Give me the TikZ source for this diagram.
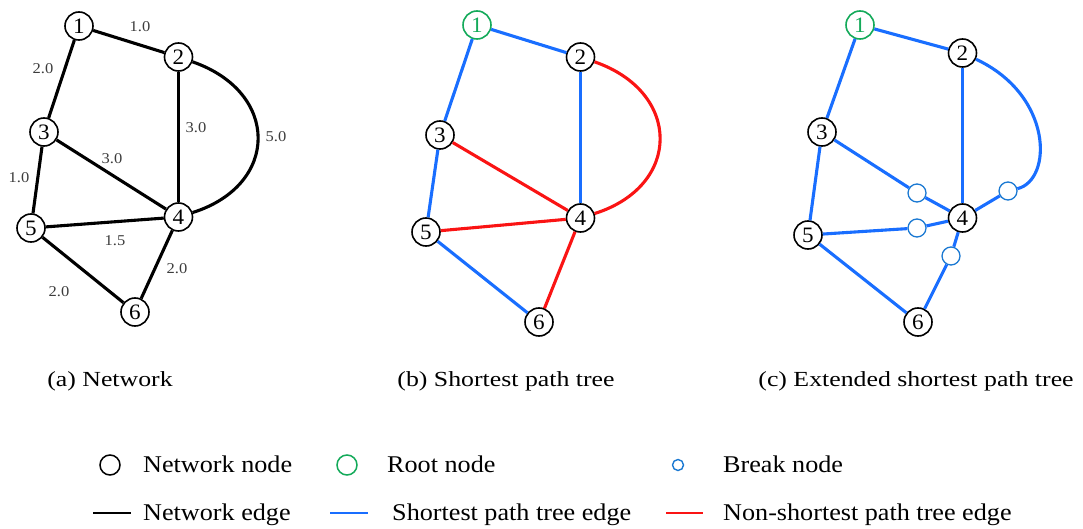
\documentclass[tikz,border=0pt]{standalone}
\usepackage{fontspec}
\setmainfont{Liberation Serif}
\newfontfamily\capfont[FakeStretch=1.2]{Liberation Serif}
\newfontfamily\legfont[FakeStretch=1.09]{Liberation Serif}
\newfontfamily\numfont[FakeStretch=1.05]{Liberation Serif}
\newfontfamily\lblfont[FakeStretch=1.1]{Liberation Serif}
\definecolor{sptblue}{RGB}{25,110,255}
\definecolor{nonred}{RGB}{250,20,20}
\definecolor{rootgreen}{RGB}{20,170,90}
\definecolor{breakblue}{RGB}{25,120,210}
\definecolor{lblgray}{RGB}{60,60,60}
\begin{document}
\begin{tikzpicture}[x=1pt,y=-1pt,
 nnode/.style={circle,draw=black,line width=1.6pt,fill=white,minimum size=28pt,inner sep=0pt,font=\numfont\fontsize{22}{22}\selectfont},
 rnode/.style={nnode,draw=rootgreen,text=rootgreen},
 bnode/.style={circle,draw=breakblue,line width=1.3pt,fill=white,minimum size=18pt,inner sep=0pt},
 nedge/.style={line width=3.1pt,black},
 sedge/.style={line width=3.1pt,sptblue},
 redge/.style={line width=3.1pt,nonred},
 elbl/.style={font=\lblfont\fontsize{15}{15}\selectfont,text=lblgray,inner sep=0pt},
 captxt/.style={font=\capfont\fontsize{21.5}{25}\selectfont,anchor=base,inner sep=0pt},
 leg/.style={font=\legfont\fontsize{24}{26}\selectfont,anchor=base west,inner sep=0pt},
 legline/.style={line width=1.6pt},
]
\useasboundingbox (0,0) rectangle (1083,529);

% ---------- (a) Network ----------
\node[nnode] (a1) at (79,26) {1};
\node[nnode] (a2) at (178.5,57) {2};
\node[nnode] (a3) at (44,132) {3};
\node[nnode] (a4) at (178.5,217) {4};
\node[nnode] (a5) at (31,228) {5};
\node[nnode] (a6) at (135,312) {6};
\draw[nedge] (a1) -- (a2);
\draw[nedge] (a1) -- (a3);
\draw[nedge] (a2) -- (a4);
\draw[nedge] (a3) -- (a4);
\draw[nedge] (a3) -- (a5);
\draw[nedge] (a5) -- (a4);
\draw[nedge] (a5) -- (a6);
\draw[nedge] (a4) -- (a6);
\draw[nedge] (a2) .. controls (280,92) and (280,185) .. (a4);
\node[elbl] (l12) at (140,27) {1.0};
\node[elbl] (l13) at (43,69) {2.0};
\node[elbl] (l24) at (196,128) {3.0};
\node[elbl] (l24c) at (276,137) {5.0};
\node[elbl] (l34) at (112,159) {3.0};
\node[elbl] (l35) at (19,178) {1.0};
\node[elbl] (l54) at (115,241) {1.5};
\node[elbl] (l46) at (177,269) {2.0};
\node[elbl] (l56) at (59,292) {2.0};
\node[captxt] (capa) at (110,386) {(a) Network};

% ---------- (b) Shortest path tree ----------
\node[rnode] (b1) at (477,25) {1};
\node[nnode] (b2) at (580.5,57) {2};
\node[nnode] (b3) at (440,135) {3};
\node[nnode] (b4) at (580.5,218) {4};
\node[nnode] (b5) at (426,232) {5};
\node[nnode] (b6) at (539,322) {6};
\draw[sedge] (b1) -- (b2);
\draw[sedge] (b1) -- (b3);
\draw[sedge] (b2) -- (b4);
\draw[sedge] (b3) -- (b5);
\draw[sedge] (b5) -- (b6);
\draw[redge] (b3) -- (b4);
\draw[redge] (b5) -- (b4);
\draw[redge] (b4) -- (b6);
\draw[redge] (b2) .. controls (682,92) and (682,186) .. (b4);
\node[captxt] (capb) at (506,386) {(b) Shortest path tree};

% ---------- (c) Extended shortest path tree ----------
\node[rnode] (c1) at (860,25) {1};
\node[nnode] (c2) at (962.5,53) {2};
\node[nnode] (c3) at (822,132) {3};
\node[nnode] (c4) at (962.5,218) {4};
\node[nnode] (c5) at (808,235) {5};
\node[nnode] (c6) at (918,322) {6};
\node[bnode] (k34) at (917,193) {};
\node[bnode] (k24) at (1008,191) {};
\node[bnode] (k54) at (917,228) {};
\node[bnode] (k64) at (951,256) {};
\draw[sedge] (c1) -- (c2);
\draw[sedge] (c1) -- (c3);
\draw[sedge] (c2) -- (c4);
\draw[sedge] (c3) -- (c5);
\draw[sedge] (c5) -- (c6);
\draw[sedge] (c3) -- (k34);
\draw[sedge] (k34) -- (c4);
\draw[sedge] (c5) -- (k54);
\draw[sedge] (k54) -- (c4);
\draw[sedge] (c6) -- (k64);
\draw[sedge] (k64) -- (c4);
\draw[sedge] (c4) -- (k24);
\draw[sedge] (c2) .. controls (1053,95) and (1053,180) .. (k24);
\node[captxt] (capc) at (916,386) {(c) Extended shortest path tree};

% ---------- Legend ----------
\node[circle,draw=black,line width=1.5pt,minimum size=20pt,inner sep=0pt] (gnn) at (110,465) {};
\node[leg] (gnnt) at (143,472) {Network node};
\node[circle,draw=rootgreen,line width=1.5pt,minimum size=20pt,inner sep=0pt] (grn) at (347,465) {};
\node[leg] (grnt) at (387,472) {Root node};
\node[circle,draw=breakblue,line width=1.4pt,minimum size=11pt,inner sep=0pt] (gbn) at (678,465) {};
\node[leg] (gbnt) at (723,472) {Break node};

\coordinate (ne1) at (93,513);
\coordinate (ne2) at (131,513);
\draw[legline,black] (ne1) -- (ne2);
\node[leg] (gnet) at (143,520) {Network edge};
\coordinate (se1) at (330,513);
\coordinate (se2) at (368,513);
\draw[legline,sptblue] (se1) -- (se2);
\node[leg] (gset) at (392,520) {Shortest path tree edge};
\coordinate (re1) at (666,513);
\coordinate (re2) at (703,513);
\draw[legline,nonred] (re1) -- (re2);
\node[leg] (gret) at (723,520) {Non-shortest path tree edge};
\end{tikzpicture}
\end{document}
